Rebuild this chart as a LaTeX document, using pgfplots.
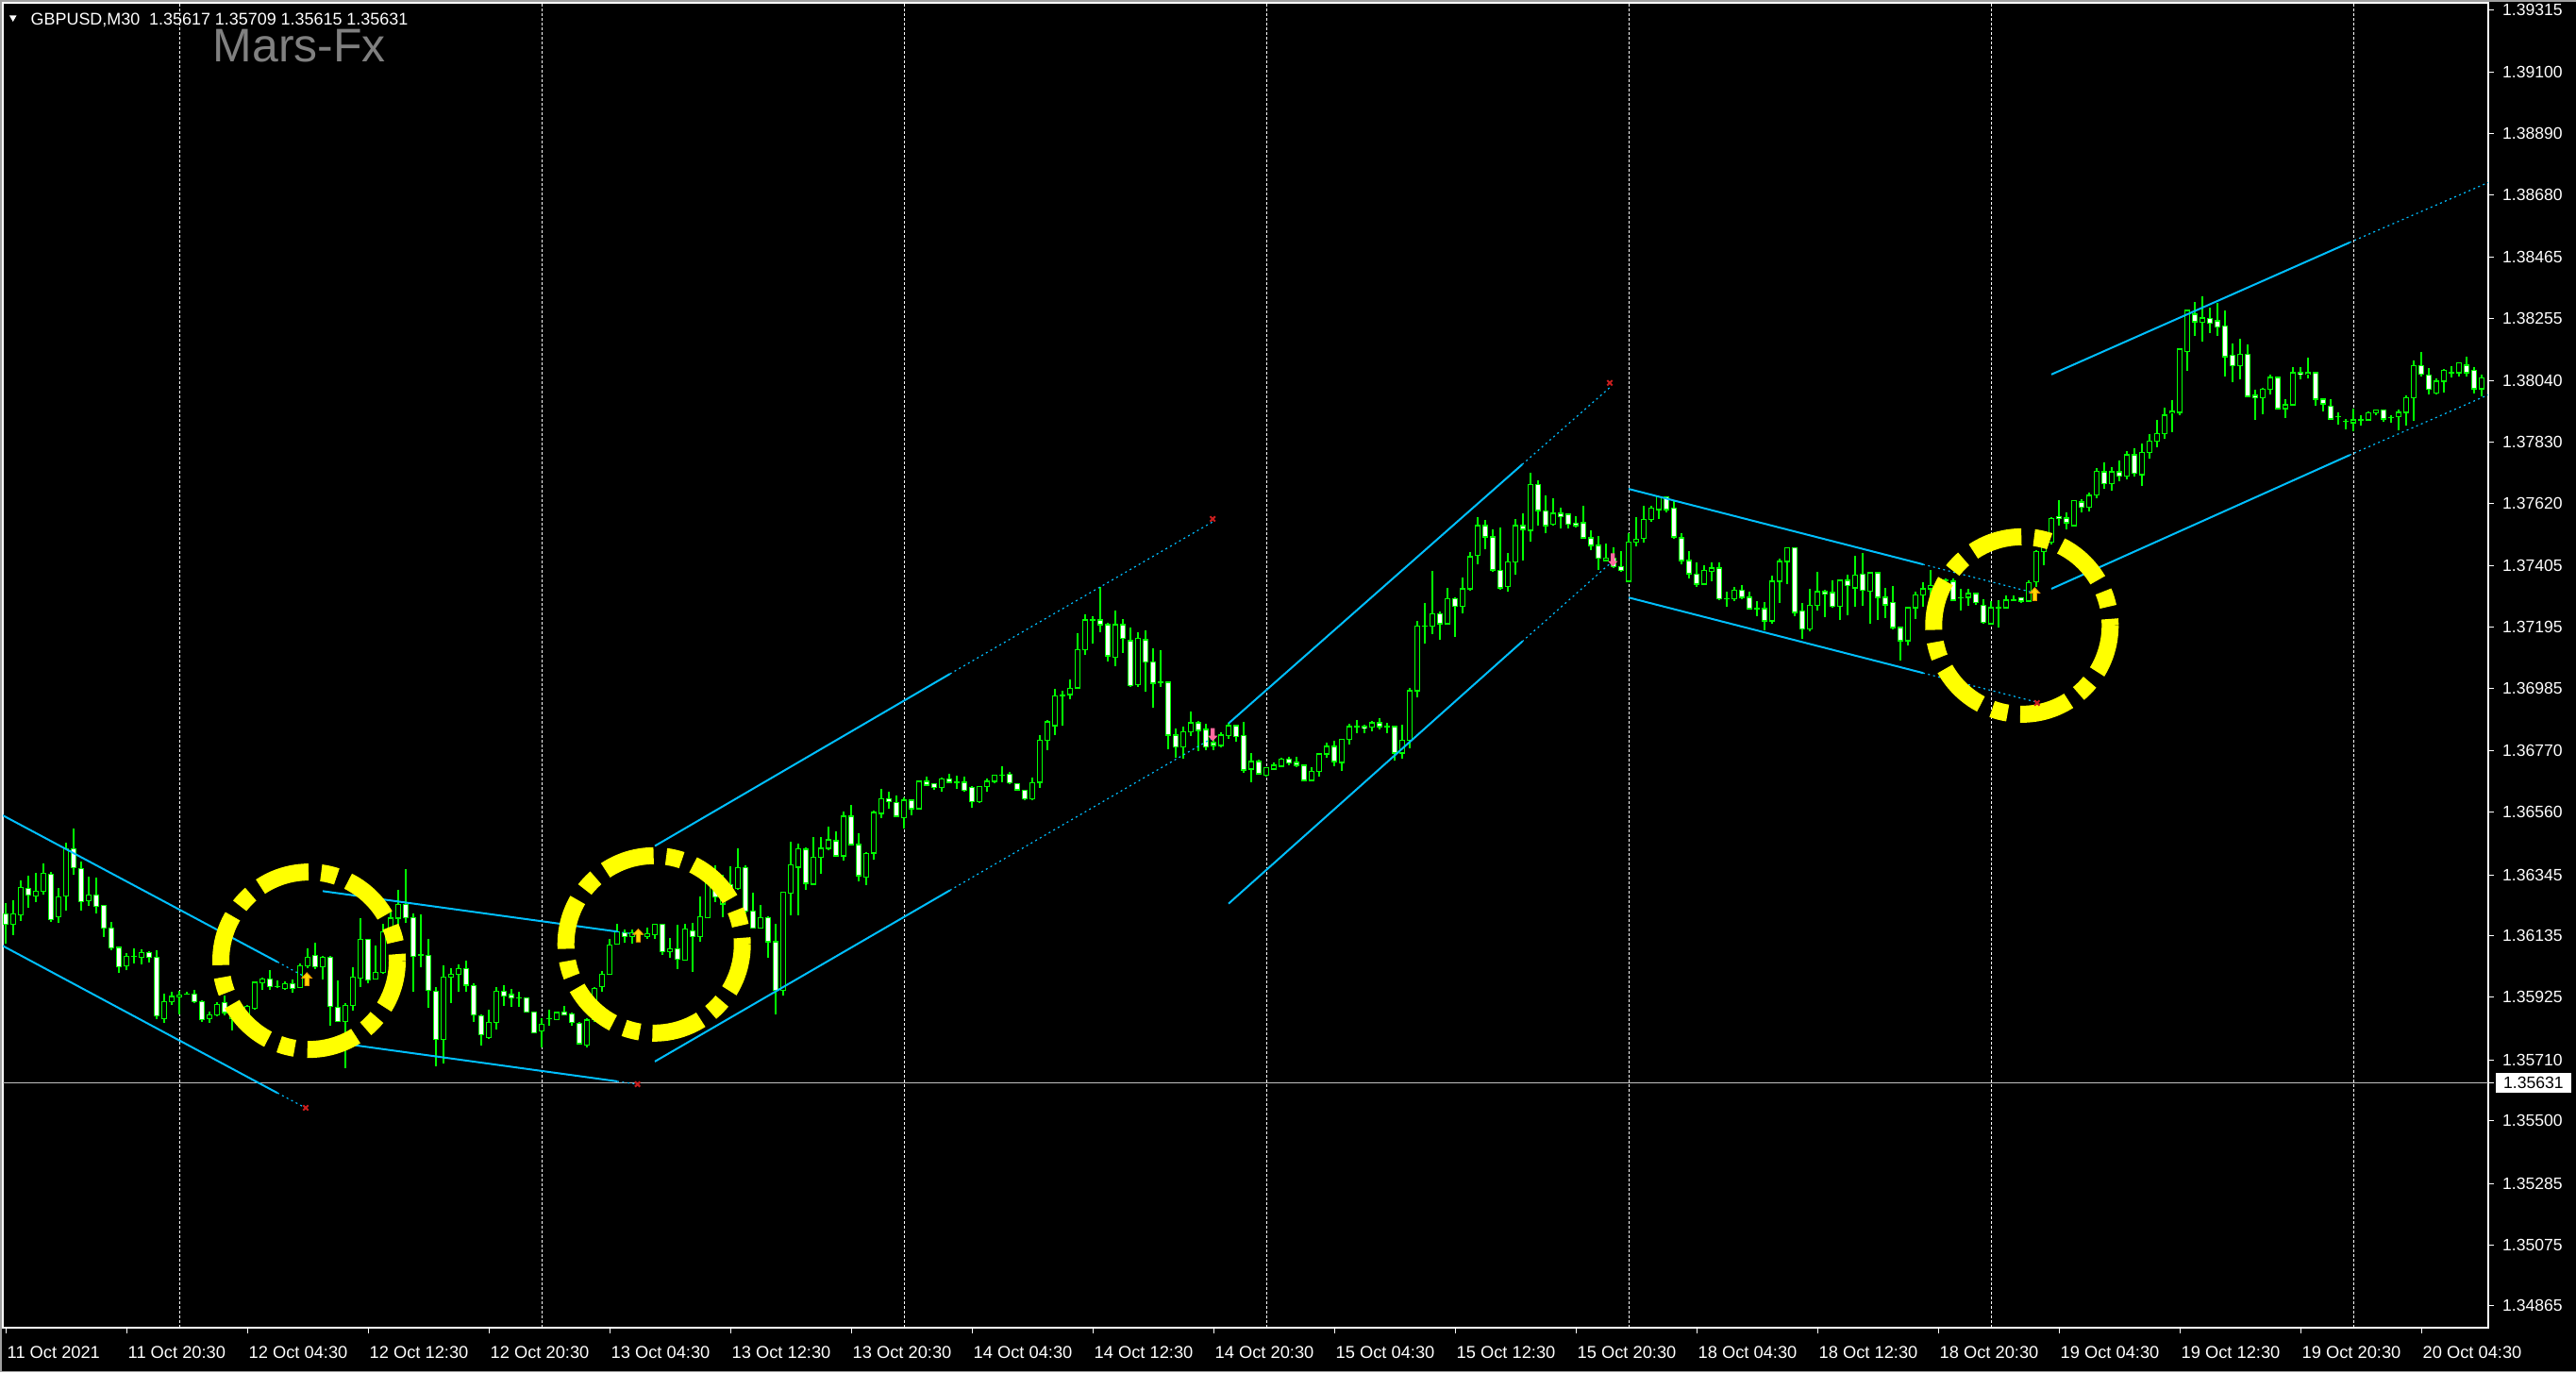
\documentclass[border=0pt]{standalone}
\usepackage{pgfplots}
\pgfplotsset{compat=1.18}
\usepackage{pgfplotstable}
\usepackage{fontspec}
\setmainfont{Liberation Sans}
\definecolor{mtlime}{RGB}{0,255,0}
\definecolor{chan}{RGB}{0,191,255}
\definecolor{circ}{RGB}{255,255,0}
\definecolor{uparrf}{RGB}{255,214,0}
\definecolor{uparrd}{RGB}{235,150,0}
\definecolor{dnarr}{RGB}{255,105,160}
\definecolor{xred}{RGB}{200,30,30}
\definecolor{bidline}{RGB}{192,192,192}
\definecolor{wm}{RGB}{128,128,128}
\definecolor{frame}{RGB}{160,160,160}

\pgfdeclareplotmark{uarr}{%
  \pgfpathmoveto{\pgfqpoint{0pt}{2.0pt}}%
  \pgfpathlineto{\pgfqpoint{1.5pt}{0.4pt}}%
  \pgfpathlineto{\pgfqpoint{0.6pt}{0.4pt}}%
  \pgfpathlineto{\pgfqpoint{0.6pt}{-1.9pt}}%
  \pgfpathlineto{\pgfqpoint{-0.6pt}{-1.9pt}}%
  \pgfpathlineto{\pgfqpoint{-0.6pt}{0.4pt}}%
  \pgfpathlineto{\pgfqpoint{-1.5pt}{0.4pt}}%
  \pgfpathclose
  \pgfusepathqfillstroke}
\pgfdeclareplotmark{darr}{%
  \pgfpathmoveto{\pgfqpoint{0pt}{-2.0pt}}%
  \pgfpathlineto{\pgfqpoint{1.5pt}{-0.4pt}}%
  \pgfpathlineto{\pgfqpoint{0.6pt}{-0.4pt}}%
  \pgfpathlineto{\pgfqpoint{0.6pt}{1.9pt}}%
  \pgfpathlineto{\pgfqpoint{-0.6pt}{1.9pt}}%
  \pgfpathlineto{\pgfqpoint{-0.6pt}{-0.4pt}}%
  \pgfpathlineto{\pgfqpoint{-1.5pt}{-0.4pt}}%
  \pgfpathclose
  \pgfusepathqfill}

\pgfplotstableread{
b o h l c
-16 1.36212 1.36249 1.36109 1.36174
-15 1.36176 1.36257 1.36139 1.36212
-14 1.36208 1.36325 1.36188 1.36302
-13 1.36299 1.36341 1.36233 1.36276
-12 1.36273 1.36351 1.36252 1.36289
-11 1.36289 1.36384 1.36276 1.36351
-10 1.36348 1.36354 1.36182 1.36192
-9 1.36201 1.36300 1.36179 1.36270
-8 1.36273 1.36455 1.36222 1.36435
-7 1.36435 1.36503 1.36346 1.36370
-6 1.36367 1.36390 1.36222 1.36254
-5 1.36256 1.36338 1.36239 1.36276
-4 1.36276 1.36336 1.36214 1.36238
-3 1.36241 1.36243 1.36133 1.36163
-2 1.36163 1.36182 1.36087 1.36095
-1 1.36096 1.36098 1.36009 1.36030
0 1.36032 1.36077 1.36017 1.36066
1 1.36065 1.36092 1.36041 1.36065
2 1.36063 1.36090 1.36039 1.36079
3 1.36079 1.36084 1.36044 1.36063
4 1.36063 1.36086 1.35850 1.35860
5 1.35852 1.35936 1.35837 1.35910
6 1.35909 1.35944 1.35898 1.35927
7 1.35927 1.35947 1.35866 1.35933
8 1.35936 1.35945 1.35933 1.35936
9 1.35936 1.35950 1.35906 1.35910
10 1.35910 1.35915 1.35839 1.35847
11 1.35852 1.35876 1.35837 1.35864
12 1.35864 1.35909 1.35860 1.35901
13 1.35907 1.35931 1.35863 1.35872
14 1.35850 1.35898 1.35812 1.35872
15 1.35872 1.35905 1.35856 1.35889
16 1.35860 1.35898 1.35850 1.35894
17 1.35886 1.35979 1.35882 1.35976
18 1.35975 1.35992 1.35951 1.35988
19 1.35988 1.36019 1.35951 1.35962
20 1.35961 1.35982 1.35956 1.35961
21 1.35954 1.35979 1.35951 1.35972
22 1.35971 1.35985 1.35941 1.35956
23 1.35959 1.36041 1.35958 1.36033
24 1.36032 1.36093 1.36026 1.36063
25 1.36069 1.36112 1.36022 1.36030
26 1.36030 1.36066 1.35985 1.36063
27 1.36063 1.36066 1.35828 1.35894
28 1.35891 1.35983 1.35840 1.35842
29 1.35842 1.35904 1.35682 1.35897
30 1.35896 1.36028 1.35880 1.35995
31 1.35990 1.36196 1.35961 1.36122
32 1.36122 1.36125 1.35974 1.35983
33 1.35987 1.36103 1.35985 1.36011
34 1.36009 1.36177 1.36006 1.36150
35 1.36139 1.36222 1.36136 1.36196
36 1.36196 1.36293 1.36174 1.36244
37 1.36242 1.36365 1.36181 1.36199
38 1.36199 1.36212 1.35945 1.36066
39 1.36070 1.36208 1.36028 1.36070
40 1.36069 1.36125 1.35890 1.35949
41 1.35946 1.35961 1.35688 1.35781
42 1.35781 1.36033 1.35696 1.35995
43 1.35995 1.36026 1.35906 1.36004
44 1.36004 1.36039 1.35945 1.36024
45 1.36024 1.36052 1.35945 1.35966
46 1.35965 1.35974 1.35839 1.35865
47 1.35862 1.35866 1.35758 1.35797
48 1.35786 1.35882 1.35783 1.35839
49 1.35839 1.35961 1.35815 1.35946
50 1.35946 1.35966 1.35896 1.35928
51 1.35934 1.35954 1.35893 1.35923
52 1.35923 1.35944 1.35893 1.35923
53 1.35923 1.35925 1.35872 1.35875
54 1.35875 1.35877 1.35801 1.35803
55 1.35810 1.35852 1.35753 1.35833
56 1.35850 1.35882 1.35826 1.35850
57 1.35849 1.35873 1.35848 1.35872
58 1.35875 1.35895 1.35864 1.35865
59 1.35868 1.35872 1.35826 1.35839
60 1.35836 1.35839 1.35761 1.35765
61 1.35761 1.35852 1.35753 1.35846
62 1.35847 1.35961 1.35840 1.35956
63 1.35961 1.36015 1.35945 1.36004
64 1.36004 1.36125 1.36003 1.36104
65 1.36107 1.36177 1.36104 1.36150
66 1.36145 1.36158 1.36112 1.36134
67 1.36134 1.36158 1.36109 1.36147
68 1.36141 1.36154 1.36118 1.36141
69 1.36134 1.36165 1.36125 1.36144
70 1.36139 1.36177 1.36125 1.36174
71 1.36176 1.36178 1.36071 1.36082
72 1.36082 1.36128 1.36060 1.36092
73 1.36092 1.36174 1.36022 1.36056
74 1.36053 1.36177 1.36050 1.36160
75 1.36152 1.36181 1.36012 1.36133
76 1.36133 1.36271 1.36116 1.36200
77 1.36199 1.36330 1.36197 1.36320
78 1.36300 1.36377 1.36252 1.36268
79 1.36245 1.36346 1.36201 1.36310
80 1.36310 1.36375 1.36284 1.36298
81 1.36298 1.36436 1.36293 1.36370
82 1.36370 1.36377 1.36212 1.36221
83 1.36221 1.36285 1.36161 1.36163
84 1.36163 1.36241 1.36161 1.36199
85 1.36199 1.36204 1.36061 1.36115
86 1.36115 1.36177 1.35866 1.35947
87 1.35947 1.36286 1.35931 1.36284
88 1.36281 1.36459 1.36206 1.36378
89 1.36371 1.36452 1.36206 1.36433
90 1.36433 1.36440 1.36294 1.36316
91 1.36313 1.36475 1.36310 1.36404
92 1.36404 1.36475 1.36349 1.36436
93 1.36436 1.36511 1.36430 1.36465
94 1.36462 1.36495 1.36407 1.36410
95 1.36410 1.36563 1.36394 1.36546
96 1.36546 1.36585 1.36446 1.36449
97 1.36449 1.36488 1.36323 1.36342
98 1.36336 1.36423 1.36310 1.36417
99 1.36420 1.36566 1.36397 1.36559
100 1.36556 1.36640 1.36540 1.36605
101 1.36605 1.36631 1.36572 1.36595
102 1.36592 1.36618 1.36543 1.36546
103 1.36540 1.36611 1.36504 1.36601
104 1.36601 1.36605 1.36550 1.36572
105 1.36572 1.36669 1.36570 1.36666
106 1.36666 1.36682 1.36650 1.36653
107 1.36657 1.36660 1.36637 1.36644
108 1.36644 1.36679 1.36631 1.36673
109 1.36673 1.36692 1.36660 1.36663
110 1.36663 1.36686 1.36640 1.36663
111 1.36663 1.36682 1.36631 1.36634
112 1.36644 1.36650 1.36576 1.36595
113 1.36595 1.36648 1.36593 1.36647
114 1.36647 1.36676 1.36631 1.36666
115 1.36666 1.36689 1.36660 1.36686
116 1.36686 1.36718 1.36663 1.36686
117 1.36689 1.36699 1.36657 1.36660
118 1.36657 1.36660 1.36634 1.36637
119 1.36634 1.36637 1.36601 1.36605
120 1.36605 1.36679 1.36601 1.36660
121 1.36663 1.36825 1.36644 1.36806
122 1.36806 1.36877 1.36773 1.36870
123 1.36857 1.36984 1.36825 1.36958
124 1.36961 1.36977 1.36857 1.36961
125 1.36964 1.37016 1.36948 1.36984
126 1.36987 1.37175 1.36984 1.37117
127 1.37117 1.37240 1.37100 1.37220
128 1.37220 1.37233 1.37139 1.37220
129 1.37220 1.37334 1.37178 1.37204
130 1.37204 1.37211 1.37078 1.37097
131 1.37091 1.37253 1.37062 1.37204
132 1.37204 1.37224 1.37107 1.37156
133 1.37149 1.37194 1.36990 1.36994
134 1.36997 1.37178 1.36990 1.37156
135 1.37152 1.37185 1.36974 1.37075
136 1.37075 1.37123 1.36919 1.37003
137 1.37006 1.37117 1.36990 1.37006
138 1.37006 1.37009 1.36776 1.36825
139 1.36825 1.36848 1.36747 1.36783
140 1.36783 1.36854 1.36744 1.36835
141 1.36835 1.36906 1.36822 1.36867
142 1.36867 1.36874 1.36770 1.36841
143 1.36844 1.36864 1.36773 1.36783
144 1.36799 1.36822 1.36773 1.36789
145 1.36789 1.36835 1.36783 1.36825
146 1.36822 1.36867 1.36812 1.36857
147 1.36857 1.36861 1.36802 1.36819
148 1.36822 1.36870 1.36695 1.36705
149 1.36708 1.36763 1.36663 1.36734
150 1.36734 1.36741 1.36689 1.36692
151 1.36686 1.36715 1.36682 1.36712
152 1.36708 1.36731 1.36705 1.36721
153 1.36718 1.36747 1.36715 1.36741
154 1.36741 1.36751 1.36721 1.36728
155 1.36731 1.36751 1.36715 1.36721
156 1.36721 1.36725 1.36666 1.36669
157 1.36669 1.36715 1.36666 1.36699
158 1.36699 1.36763 1.36682 1.36760
159 1.36760 1.36799 1.36747 1.36786
160 1.36786 1.36806 1.36718 1.36734
161 1.36731 1.36812 1.36702 1.36809
162 1.36809 1.36864 1.36793 1.36854
163 1.36854 1.36877 1.36832 1.36854
164 1.36854 1.36861 1.36832 1.36848
165 1.36851 1.36874 1.36838 1.36867
166 1.36867 1.36883 1.36844 1.36854
167 1.36854 1.36867 1.36832 1.36854
168 1.36854 1.36857 1.36738 1.36763
169 1.36763 1.36861 1.36744 1.36806
170 1.36806 1.36987 1.36780 1.36977
171 1.36977 1.37217 1.36955 1.37198
172 1.37198 1.37279 1.37139 1.37198
173 1.37198 1.37389 1.37172 1.37240
174 1.37240 1.37250 1.37152 1.37207
175 1.37207 1.37330 1.37204 1.37292
176 1.37292 1.37298 1.37162 1.37266
177 1.37266 1.37366 1.37243 1.37327
178 1.37327 1.37454 1.37321 1.37437
179 1.37441 1.37574 1.37411 1.37544
180 1.37544 1.37564 1.37463 1.37505
181 1.37505 1.37531 1.37386 1.37392
182 1.37389 1.37538 1.37324 1.37330
183 1.37334 1.37450 1.37317 1.37418
184 1.37418 1.37567 1.37376 1.37544
185 1.37544 1.37586 1.37424 1.37531
186 1.37528 1.37726 1.37489 1.37684
187 1.37684 1.37700 1.37544 1.37596
188 1.37593 1.37648 1.37518 1.37544
189 1.37548 1.37638 1.37544 1.37586
190 1.37586 1.37606 1.37535 1.37574
191 1.37583 1.37586 1.37535 1.37548
192 1.37551 1.37577 1.37538 1.37544
193 1.37554 1.37612 1.37499 1.37502
194 1.37502 1.37528 1.37460 1.37476
195 1.37476 1.37509 1.37392 1.37431
196 1.37424 1.37483 1.37421 1.37431
197 1.37431 1.37470 1.37398 1.37402
198 1.37402 1.37457 1.37386 1.37389
199 1.37353 1.37518 1.37350 1.37486
200 1.37486 1.37574 1.37473 1.37496
201 1.37499 1.37612 1.37486 1.37564
202 1.37564 1.37612 1.37557 1.37603
203 1.37599 1.37645 1.37567 1.37642
204 1.37642 1.37645 1.37590 1.37599
205 1.37603 1.37632 1.37499 1.37505
206 1.37502 1.37518 1.37411 1.37424
207 1.37424 1.37457 1.37363 1.37379
208 1.37376 1.37418 1.37334 1.37343
209 1.37343 1.37408 1.37340 1.37389
210 1.37386 1.37418 1.37353 1.37398
211 1.37398 1.37418 1.37288 1.37292
212 1.37292 1.37317 1.37266 1.37292
213 1.37292 1.37334 1.37285 1.37321
214 1.37321 1.37340 1.37292 1.37298
215 1.37298 1.37317 1.37256 1.37259
216 1.37259 1.37285 1.37233 1.37259
217 1.37259 1.37282 1.37185 1.37217
218 1.37217 1.37373 1.37207 1.37353
219 1.37353 1.37431 1.37279 1.37421
220 1.37421 1.37470 1.37343 1.37467
221 1.37467 1.37470 1.37233 1.37246
222 1.37250 1.37279 1.37156 1.37188
223 1.37188 1.37327 1.37181 1.37269
224 1.37269 1.37386 1.37253 1.37317
225 1.37317 1.37324 1.37230 1.37308
226 1.37314 1.37356 1.37262 1.37266
227 1.37266 1.37358 1.37220 1.37356
228 1.37356 1.37376 1.37236 1.37337
229 1.37330 1.37441 1.37266 1.37373
230 1.37376 1.37450 1.37269 1.37321
231 1.37318 1.37386 1.37207 1.37382
232 1.37382 1.37386 1.37220 1.37298
233 1.37298 1.37330 1.37227 1.37272
234 1.37279 1.37337 1.37188 1.37194
235 1.37194 1.37198 1.37081 1.37149
236 1.37149 1.37266 1.37133 1.37262
237 1.37262 1.37317 1.37224 1.37305
238 1.37305 1.37350 1.37266 1.37327
239 1.37327 1.37392 1.37298 1.37337
240 1.37327 1.37356 1.37314 1.37347
241 1.37356 1.37363 1.37350 1.37356
242 1.37353 1.37363 1.37285 1.37288
243 1.37295 1.37327 1.37253 1.37295
244 1.37298 1.37327 1.37269 1.37311
245 1.37311 1.37313 1.37272 1.37279
246 1.37269 1.37292 1.37207 1.37211
247 1.37207 1.37285 1.37204 1.37262
248 1.37262 1.37288 1.37194 1.37262
249 1.37262 1.37305 1.37259 1.37288
250 1.37288 1.37305 1.37285 1.37288
251 1.37295 1.37298 1.37279 1.37285
252 1.37285 1.37356 1.37282 1.37347
253 1.37350 1.37460 1.37334 1.37454
254 1.37454 1.37499 1.37408 1.37486
255 1.37486 1.37574 1.37480 1.37567
256 1.37574 1.37632 1.37544 1.37567
257 1.37570 1.37590 1.37531 1.37554
258 1.37544 1.37632 1.37541 1.37629
259 1.37625 1.37635 1.37590 1.37606
260 1.37606 1.37658 1.37593 1.37648
261 1.37648 1.37742 1.37638 1.37729
262 1.37729 1.37761 1.37671 1.37687
263 1.37687 1.37745 1.37664 1.37729
264 1.37729 1.37768 1.37697 1.37713
265 1.37713 1.37800 1.37703 1.37787
266 1.37787 1.37810 1.37713 1.37723
267 1.37719 1.37826 1.37680 1.37794
268 1.37794 1.37859 1.37774 1.37833
269 1.37833 1.37907 1.37813 1.37859
270 1.37859 1.37949 1.37842 1.37923
271 1.37930 1.37975 1.37865 1.37936
272 1.37933 1.38152 1.37923 1.38150
273 1.38141 1.38285 1.38076 1.38283
274 1.38270 1.38312 1.38196 1.38244
275 1.38241 1.38332 1.38176 1.38257
276 1.38254 1.38293 1.38205 1.38238
277 1.38247 1.38309 1.38196 1.38225
278 1.38228 1.38283 1.38056 1.38124
279 1.38128 1.38170 1.38037 1.38092
280 1.38092 1.38186 1.38046 1.38131
281 1.38131 1.38166 1.37985 1.37988
282 1.37991 1.38011 1.37907 1.37982
283 1.37982 1.38017 1.37927 1.38011
284 1.38011 1.38063 1.37995 1.38053
285 1.38053 1.38056 1.37943 1.37946
286 1.37946 1.37978 1.37914 1.37959
287 1.37959 1.38089 1.37957 1.38069
288 1.38069 1.38089 1.38046 1.38063
289 1.38063 1.38121 1.38050 1.38069
290 1.38069 1.38072 1.37956 1.37978
291 1.37978 1.37982 1.37936 1.37962
292 1.37953 1.37978 1.37907 1.37910
293 1.37917 1.37933 1.37891 1.37917
294 1.37901 1.37910 1.37875 1.37901
295 1.37897 1.37946 1.37868 1.37907
296 1.37907 1.37923 1.37888 1.37907
297 1.37907 1.37936 1.37904 1.37930
298 1.37930 1.37943 1.37923 1.37940
299 1.37940 1.37943 1.37901 1.37910
300 1.37914 1.37923 1.37897 1.37914
301 1.37917 1.37943 1.37872 1.37933
302 1.37933 1.37991 1.37888 1.37982
303 1.37982 1.38111 1.37904 1.38092
304 1.38092 1.38141 1.38056 1.38063
305 1.38060 1.38085 1.37995 1.38011
306 1.37998 1.38050 1.37995 1.38040
307 1.38040 1.38082 1.38001 1.38076
308 1.38069 1.38092 1.38053 1.38069
309 1.38069 1.38104 1.38056 1.38102
310 1.38095 1.38124 1.38056 1.38069
311 1.38076 1.38089 1.37998 1.38014
312 1.38014 1.38063 1.37988 1.38050
}\candles

\begin{document}
\begin{tikzpicture}
\fill[black] (0,0) rectangle (273mm,145.4mm);
\draw[frame, line width=0.2mm] (0.1mm,0mm) -- (0.1mm,145.3mm) -- (273mm,145.3mm);
\draw[frame, line width=0.1mm] (0mm,0.05mm) -- (273mm,0.05mm);
\begin{axis}[
  at={(0.3mm,4.7mm)}, anchor=south west,
  width=263.4mm, height=140.4mm, scale only axis,
  xmin=-16.375, xmax=312.875, ymin=1.34790, ymax=1.39339,
  axis line style={white, line width=0.15mm},
  tick style={white, line width=0.1mm},
  major tick length=0.55mm,
  tick align=outside,
  xtick pos=left, ytick pos=right, yticklabel pos=right,
  xtick={-16,0,16,32,48,64,80,96,112,128,144,160,176,192,208,224,240,256,272,288,304},
  xticklabels={11 Oct 2021,11 Oct 20:30,12 Oct 04:30,12 Oct 12:30,12 Oct 20:30,13 Oct 04:30,13 Oct 12:30,13 Oct 20:30,14 Oct 04:30,14 Oct 12:30,14 Oct 20:30,15 Oct 04:30,15 Oct 12:30,15 Oct 20:30,18 Oct 04:30,18 Oct 12:30,18 Oct 20:30,19 Oct 04:30,19 Oct 12:30,19 Oct 20:30,20 Oct 04:30},
  ytick={1.39315,1.39100,1.38890,1.38680,1.38465,1.38255,1.38040,1.37830,1.37620,1.37405,1.37195,1.36985,1.36770,1.36560,1.36345,1.36135,1.35925,1.35710,1.35500,1.35285,1.35075,1.34865},
  yticklabels={1.39315,1.39100,1.38890,1.38680,1.38465,1.38255,1.38040,1.37830,1.37620,1.37405,1.37195,1.36985,1.36770,1.36560,1.36345,1.36135,1.35925,1.35710,1.35500,1.35285,1.35075,1.34865},
  xticklabel style={text=white, font=\fontsize{5.2}{6}\selectfont, anchor=base west, inner sep=0pt, xshift=0.1mm, yshift=-2.7mm},
  yticklabel style={text=white, font=\fontsize{5}{6}\selectfont, anchor=west, inner sep=0pt, xshift=0.9mm},
  extra x ticks={7,55,103,151,199,247,295},
  extra x tick labels={},
  extra x tick style={grid=major, major tick length=0pt, major grid style={white, line width=0.1mm, dash pattern=on 0.3mm off 0.2mm}},
  extra y ticks={1.35631},
  extra y tick labels={1.35631},
  extra y tick style={yticklabel style={fill=white, text=black, inner xsep=0.85mm, inner ysep=0.45mm, xshift=-0.75mm}},
]
% bid line
\addplot[bidline, line width=0.1mm] coordinates {(-16.375,1.35631) (312.875,1.35631)};
% wicks (low to high)
\addplot[mtlime, line width=0.13mm, quiver={u value=0, v=\thisrow{h}-\thisrow{l}}]
  table[x=b, y=l] \candles;
% body outlines
\addplot[mtlime, line width=0.56mm, quiver={u value=0, v=abs(\thisrow{c}-\thisrow{o})+0.000038}]
  table[x=b, y expr={min(\thisrow{o},\thisrow{c})-0.000019}] \candles;
% bear bodies (white)
\addplot[white, line width=0.32mm, restrict expr to domain={100000*(\thisrow{o}-\thisrow{c})}{4:100000},
  quiver={u value=0, v=\thisrow{o}-\thisrow{c}-0.000038}]
  table[x=b, y expr={\thisrow{c}+0.000019}] \candles;
% bull bodies (black)
\addplot[black, line width=0.32mm, restrict expr to domain={100000*(\thisrow{c}-\thisrow{o})}{4:100000},
  quiver={u value=0, v=\thisrow{c}-\thisrow{o}-0.000038}]
  table[x=b, y expr={\thisrow{o}+0.000019}] \candles;

% channels
\pgfplotsset{chs/.style={chan, line width=0.2mm}, chd/.style={chan, line width=0.12mm, dash pattern=on 0.2mm off 0.35mm}}
\addplot[chs] coordinates {(-16.375,1.36549) (20,1.36046)};
\addplot[chd] coordinates {(20,1.36046) (23.5,1.35997)};
\addplot[chs] coordinates {(-16.375,1.36101) (20,1.35596)};
\addplot[chd] coordinates {(20,1.35596) (23.5,1.35548)};
\addplot[chs] coordinates {(26,1.36289) (65,1.36150)};
\addplot[chd] coordinates {(65,1.36150) (67.7,1.36140)};
\addplot[chs] coordinates {(26,1.35775) (65,1.35636)};
\addplot[chd] coordinates {(65,1.35636) (67.7,1.35626)};
\addplot[chs] coordinates {(70,1.36444) (109.1,1.37035)};
\addplot[chd] coordinates {(109.1,1.37035) (143.9,1.37557)};
\addplot[chs] coordinates {(70,1.35704) (109.1,1.36292)};
\addplot[chd] coordinates {(109.1,1.36292) (143.9,1.36815)};
\addplot[chs] coordinates {(146,1.36865) (184.9,1.37754)};
\addplot[chd] coordinates {(184.9,1.37754) (196.5,1.38018)};
\addplot[chs] coordinates {(146,1.36246) (184.9,1.37146)};
\addplot[chd] coordinates {(184.9,1.37146) (196.5,1.37413)};
\addplot[chs] coordinates {(199,1.37670) (238,1.37411)};
\addplot[chd] coordinates {(238,1.37411) (252.9,1.37312)};
\addplot[chs] coordinates {(199,1.37297) (238,1.37038)};
\addplot[chd] coordinates {(238,1.37038) (252.9,1.36939)};
\addplot[chs] coordinates {(255,1.38063) (294.5,1.38516)};
\addplot[chd] coordinates {(294.5,1.38516) (312.875,1.38722)};
\addplot[chs] coordinates {(255,1.37327) (294.5,1.37786)};
\addplot[chd] coordinates {(294.5,1.37786) (312.875,1.37993)};

% yellow dash-dot ellipses
\draw[circ, line width=1.8mm, dash pattern=on 5.4mm off 1.3mm on 1.7mm off 1.34mm, dash phase=4.7mm]
  (axis cs:24.19,1.36050) ellipse [x radius=9.35mm, y radius=9.4mm];
\draw[circ, line width=1.8mm, dash pattern=on 5.4mm off 1.3mm on 1.7mm off 1.34mm, dash phase=4.7mm]
  (axis cs:69.9,1.36106) ellipse [x radius=9.35mm, y radius=9.4mm];
\draw[circ, line width=1.8mm, dash pattern=on 5.4mm off 1.3mm on 1.7mm off 1.34mm, dash phase=4.7mm]
  (axis cs:251.1,1.37201) ellipse [x radius=9.35mm, y radius=9.4mm];

% arrows and end marks
\addplot[only marks, mark=uarr, mark options={fill=uparrf, draw=uparrd, line width=0.25pt}]
  coordinates {(23.9,1.35986) (67.8,1.36136) (252.8,1.37308)};
\addplot[only marks, mark=darr, mark options={fill=dnarr, draw=none}]
  coordinates {(143.9,1.36827) (196.9,1.37427)};
\addplot[only marks, mark=x, mark size=0.38mm, mark options={draw=xred, line width=0.2mm}]
  coordinates {(23.75,1.35545) (67.7,1.35626) (143.9,1.37567) (196.5,1.38034) (253.1,1.36935)};
\end{axis}
\fill[white] (1.0mm,143.75mm) -- (1.75mm,143.75mm) -- (1.375mm,143.1mm) -- cycle;
\node[anchor=base west, text=white, font=\fontsize{5.1}{6}\selectfont, inner sep=0pt] at (3.2mm,142.7mm)
  {GBPUSD,M30\ \ 1.35617 1.35709 1.35615 1.35631};
\node[anchor=base west, text=wm, font=\fontsize{14.2}{16}\selectfont, inner sep=0pt] at (22.5mm,138.8mm) {Mars-Fx};
\pgfresetboundingbox
\path[use as bounding box] (0,0) rectangle (273mm,145.4mm);
\end{tikzpicture}
\end{document}
